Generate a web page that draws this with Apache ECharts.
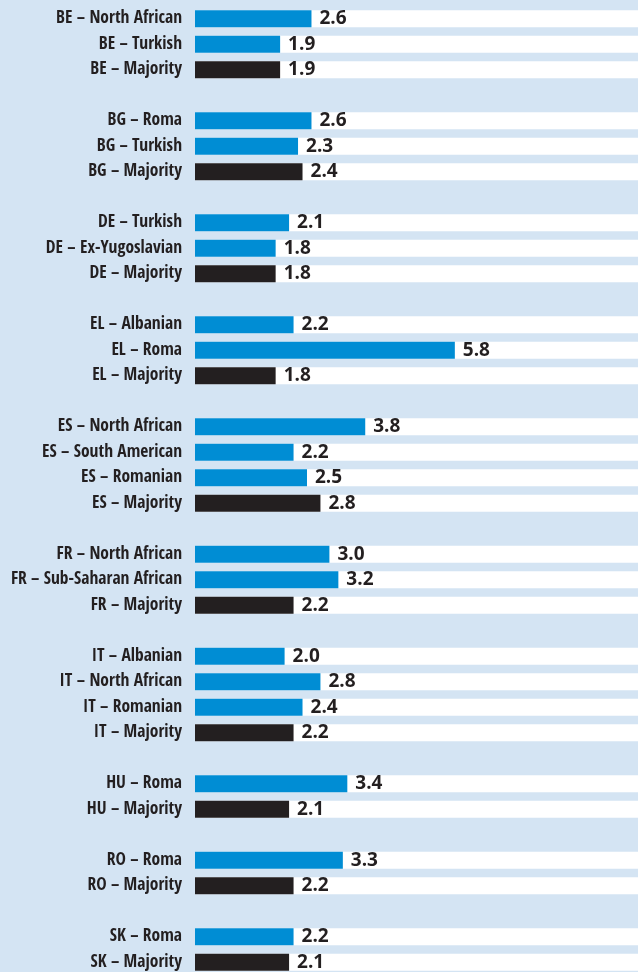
<!DOCTYPE html>
<html>
<head>
<meta charset="utf-8">
<script src="https://cdn.jsdelivr.net/npm/echarts@6/dist/echarts.min.js"></script>
<style>
  html, body { margin: 0; padding: 0; background: #d4e4f3; }
  #chart { width: 638px; height: 972px; }
</style>
</head>
<body>
<div id="chart"></div>
<script>
// '' marks the empty row between two countries
const categories = [
  "BE – North African", "BE – Turkish", "BE – Majority", "",
  "BG – Roma", "BG – Turkish", "BG – Majority", "",
  "DE – Turkish", "DE – Ex-Yugoslavian", "DE – Majority", "",
  "EL – Albanian", "EL – Roma", "EL – Majority", "",
  "ES – North African", "ES – South American", "ES – Romanian", "ES – Majority", "",
  "FR – North African", "FR – Sub-Saharan African", "FR – Majority", "",
  "IT – Albanian", "IT – North African", "IT – Romanian", "IT – Majority", "",
  "HU – Roma", "HU – Majority", "",
  "RO – Roma", "RO – Majority", "",
  "SK – Roma", "SK – Majority"
];
const values = [
  2.6, 1.9, 1.9, null,
  2.6, 2.3, 2.4, null,
  2.1, 1.8, 1.8, null,
  2.2, 5.8, 1.8, null,
  3.8, 2.2, 2.5, 2.8, null,
  3.0, 3.2, 2.2, null,
  2.0, 2.8, 2.4, 2.2, null,
  3.4, 2.1, null,
  3.3, 2.2, null,
  2.2, 2.1
];

const axisMax = 10;
const blue = "#008dd4";
const dark = "#231f20";

const chart = echarts.init(document.getElementById("chart"));
chart.setOption({
  backgroundColor: "#d4e4f3",
  animation: false,
  grid: {
    left: 195, right: -5, top: 6, bottom: -3,
    containLabel: false,
    outerBoundsMode: "none"
  },
  xAxis: { type: "value", min: 0, max: axisMax, show: false },
  yAxis: {
    type: "category",
    inverse: true,
    data: categories,
    axisLine: { show: false },
    axisTick: { show: false },
    axisLabel: {
      margin: 13,
      color: dark,
      fontSize: 17.5,
      fontWeight: "bold",
      fontFamily: '"Open Sans Condensed", "Roboto Condensed", sans-serif'
    }
  },
  series: [
    {
      // white stripe behind every filled row
      type: "bar",
      barWidth: 17,
      silent: true,
      itemStyle: { color: "#ffffff" },
      data: categories.map(c => (c ? axisMax : "-"))
    },
    {
      type: "bar",
      barWidth: 17,
      barGap: "-100%",
      data: values.map((v, i) => v == null ? "-" : {
        value: v,
        itemStyle: { color: categories[i].indexOf("Majority") >= 0 ? dark : blue }
      }),
      label: {
        show: true,
        position: "right",
        distance: 8,
        color: dark,
        fontSize: 19,
        fontWeight: "bold",
        fontFamily: '"Open Sans", sans-serif',
        formatter: p => p.value.toFixed(1)
      }
    }
  ]
});
</script>
</body>
</html>
